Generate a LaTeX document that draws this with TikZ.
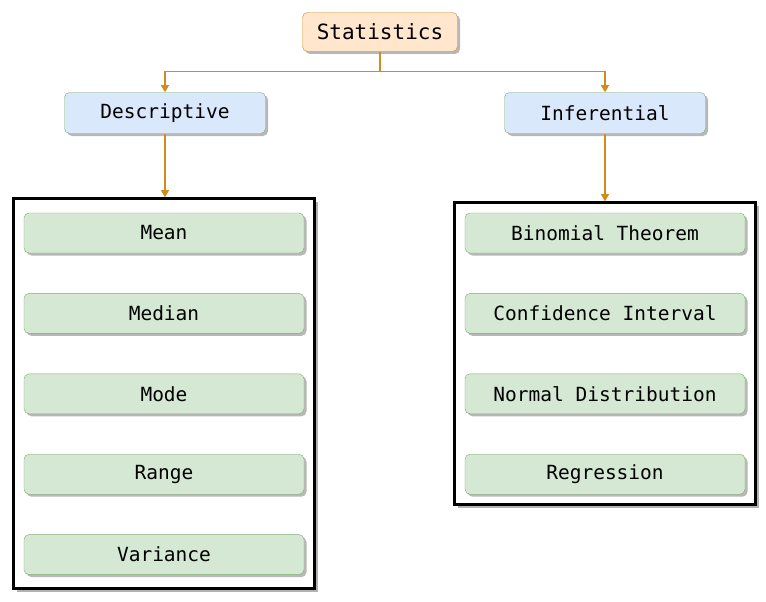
\documentclass[tikz,border=0pt]{standalone}
\usepackage{fontspec}
\setmonofont{DejaVu Sans Mono}
\usepackage{xcolor}
\usepackage{tikz}
\usetikzlibrary{positioning, fit, shadows, backgrounds}
\usetikzlibrary{arrows.meta}
\tikzset{>={Triangle[width=2.8mm,length=2.5mm]}}

\definecolor{orangefill}{HTML}{FFE6CC}
\definecolor{orangeline}{HTML}{D38B1C}
\definecolor{bluefill}{HTML}{DAE8FC}
\definecolor{greenfill}{HTML}{D5E8D4}
\definecolor{greenline}{HTML}{7FAE6E}

\begin{document}
\begin{tikzpicture}[x=1pt, y=1pt,
    rootnode/.style={rectangle, rounded corners=5pt, draw=orangeline, fill=orangefill, minimum width=155pt, minimum height=39pt, font=\ttfamily\fontsize{21}{24}\selectfont, drop shadow={shadow xshift=2.5pt, shadow yshift=-2.5pt, fill=black!28, opacity=1}},
    branchnode/.style={rectangle, rounded corners=5pt, draw=greenline, fill=bluefill, minimum width=201pt, minimum height=41pt, font=\ttfamily\fontsize{19.5}{22}\selectfont, drop shadow={shadow xshift=2.5pt, shadow yshift=-2.5pt, fill=black!28, opacity=1}},
    itemnode/.style={rectangle, rounded corners=5pt, draw=greenline, fill=greenfill, minimum width=280pt, minimum height=40pt, font=\ttfamily\fontsize{19.5}{22}\selectfont, drop shadow={shadow xshift=2.5pt, shadow yshift=-2.5pt, fill=black!28, opacity=1}},
    groupbox/.style={rectangle, draw=black, fill=white, line width=3pt, inner xsep=10pt, drop shadow={shadow xshift=3.5pt, shadow yshift=-3.5pt, fill=black!30, opacity=1}},
    link/.style={draw=orangeline, line width=1.2pt}]

    \useasboundingbox (0,0) rectangle (766,-602);

    %Nodes
    \node[rootnode](stats) at (380,-32){Statistics};
    \node[branchnode](desc) at (165,-113){Descriptive};
    \node[branchnode](infer) at (605,-113){Inferential};

    \node[itemnode](mean) at (164,-233){Mean};
    \node[itemnode](median)[below=40pt of mean]{Median};
    \node[itemnode](mode)[below=40pt of median]{Mode};
    \node[itemnode](range)[below=40pt of mode]{Range};
    \node[itemnode](variance)[below=40pt of range]{Variance};

    \node[itemnode](binom) at (605,-233){Binomial Theorem};
    \node[itemnode](conf)[below=40pt of binom]{Confidence Interval};
    \node[itemnode](normal)[below=40pt of conf]{Normal Distribution};
    \node[itemnode](regr)[below=40pt of normal]{Regression};

    %Frames
    \begin{scope}[on background layer]
    \node[groupbox, fit=(mean)(variance), inner ysep=14pt](leftbox){};
    \node[groupbox, fit=(binom)(regr), inner ysep=10pt](rightbox){};
    \end{scope}

    %Lines
    \draw[link, ->] (stats.south) -- ++(0,-20) -| (desc.north);
    \draw[link, ->] (stats.south) -- ++(0,-20) -| (infer.north);
    \draw[link, ->] (desc.south) -- (desc.south |- leftbox.north);
    \draw[link, ->] (infer.south) -- (infer.south |- rightbox.north);

\end{tikzpicture}
\end{document}
